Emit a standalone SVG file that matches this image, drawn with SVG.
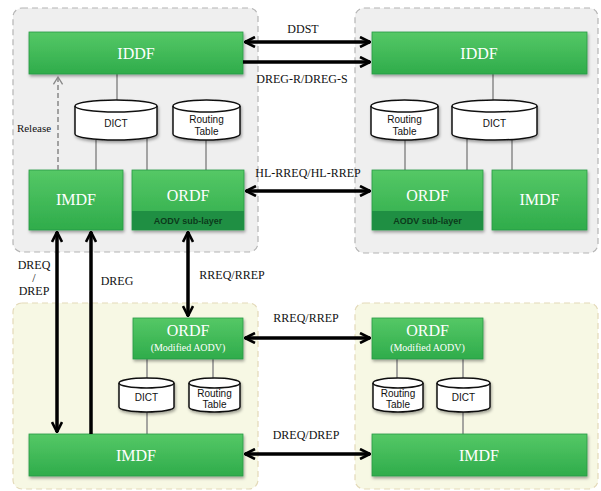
<svg xmlns="http://www.w3.org/2000/svg" width="601" height="491" viewBox="0 0 601 491">
<defs>
<style>
.cT{fill:#efefef;stroke:#b4b4b4;stroke-width:1.2;stroke-dasharray:6 4}
.cB{fill:#f7f8e4;stroke:#e3d9b8;stroke-width:1.2;stroke-dasharray:6 4}
.box{fill:url(#g);stroke:#2a9a45;stroke-width:0.8;filter:url(#sh)}
.band{fill:#1f8f43}
.bt{font-family:"Liberation Serif",serif;font-size:16px;fill:#ffffff;text-anchor:middle}
.bs{font-family:"Liberation Serif",serif;font-size:10px;fill:#ffffff;text-anchor:middle}
.sub{font-family:"Liberation Sans",sans-serif;font-size:9px;font-weight:bold;fill:#0c3a1b;text-anchor:middle}
.cyl{fill:#ffffff;stroke:#111111;stroke-width:1.5;filter:url(#sh)}
.cylt{font-family:"Liberation Sans",sans-serif;font-size:10px;fill:#111111;text-anchor:middle}
.lbl{font-family:"Liberation Serif",serif;font-size:12px;fill:#111111}
.gl{stroke:#8a8a8a;stroke-width:1.5}
.ar{stroke:#000000;stroke-width:3.5;fill:none}
.rel{stroke:#888888;stroke-width:1.5;stroke-dasharray:5 3;fill:none}
</style>
<linearGradient id="g" x1="0" y1="0" x2="0" y2="1">
<stop offset="0" stop-color="#55c866"/>
<stop offset="1" stop-color="#2fac4b"/>
</linearGradient>
<filter id="sh" x="-10%" y="-20%" width="120%" height="150%">
<feDropShadow dx="1" dy="2" stdDeviation="1.5" flood-color="#000000" flood-opacity="0.35"/>
</filter>
<marker id="ah" viewBox="0 0 12 12" refX="11" refY="6" markerWidth="12" markerHeight="12" markerUnits="userSpaceOnUse" orient="auto-start-reverse">
<path d="M1,1 L11,6 L1,11" fill="none" stroke="#000000" stroke-width="2.6" stroke-linejoin="miter"/>
</marker>
<marker id="ahg" viewBox="0 0 12 12" refX="10" refY="6" markerWidth="11" markerHeight="11" markerUnits="userSpaceOnUse" orient="auto">
<path d="M2,1 L10,6 L2,11" fill="none" stroke="#888888" stroke-width="1.5"/>
</marker>
</defs>

<rect width="601" height="491" fill="#ffffff"/>

<g id="containers">
<rect id="topLeftNode" class="cT" x="13" y="8" width="245" height="244" rx="9"/>
<rect id="topRightNode" class="cT" x="355" y="8" width="243" height="245" rx="9"/>
<rect id="bottomLeftNode" class="cB" x="13" y="303" width="245" height="186" rx="9"/>
<rect id="bottomRightNode" class="cB" x="355" y="303" width="243" height="186" rx="9"/>
</g>

<g id="internal-links">
<line class="gl" x1="117" y1="74" x2="117" y2="102"/>
<line class="gl" x1="96" y1="138" x2="96" y2="170"/>
<line class="gl" x1="147" y1="138" x2="147" y2="170"/>
<line class="gl" x1="206" y1="138" x2="206" y2="170"/>
<line class="gl" x1="493" y1="74" x2="493" y2="102"/>
<line class="gl" x1="405" y1="138" x2="405" y2="170"/>
<line class="gl" x1="467" y1="138" x2="467" y2="170"/>
<line class="gl" x1="512" y1="138" x2="512" y2="170"/>
<line class="gl" x1="147" y1="359" x2="147" y2="379"/>
<line class="gl" x1="213" y1="359" x2="213" y2="379"/>
<line class="gl" x1="147" y1="411" x2="147" y2="434"/>
<line class="gl" x1="397" y1="359" x2="397" y2="379"/>
<line class="gl" x1="463" y1="359" x2="463" y2="379"/>
<line class="gl" x1="463" y1="411" x2="463" y2="434"/>
</g>

<g id="tl-iddf"><rect class="box" x="29" y="32" width="214" height="42"/><text class="bt" x="136" y="59">IDDF</text></g>
<g id="tr-iddf"><rect class="box" x="372" y="32" width="215" height="42"/><text class="bt" x="479" y="59">IDDF</text></g>

<g id="tl-dict"><path class="cyl" d="M75,106 A41,6 0 0 1 157,106 V134 A41,6 0 0 1 75,134 Z"/><path d="M75,106 A41,6 0 0 0 157,106" fill="none" stroke="#111" stroke-width="1.5"/><text class="cylt" x="116" y="127">DICT</text></g>
<g id="tl-rt"><path class="cyl" d="M173,106 A33.5,6 0 0 1 240,106 V134 A33.5,6 0 0 1 173,134 Z"/><path d="M173,106 A33.5,6 0 0 0 240,106" fill="none" stroke="#111" stroke-width="1.5"/><text class="cylt" x="206.5" y="123">Routing</text><text class="cylt" x="206.5" y="135">Table</text></g>
<g id="tr-rt"><path class="cyl" d="M371,106 A33.5,6 0 0 1 438,106 V134 A33.5,6 0 0 1 371,134 Z"/><path d="M371,106 A33.5,6 0 0 0 438,106" fill="none" stroke="#111" stroke-width="1.5"/><text class="cylt" x="404.5" y="123">Routing</text><text class="cylt" x="404.5" y="135">Table</text></g>
<g id="tr-dict"><path class="cyl" d="M452,106 A42.5,6 0 0 1 537,106 V134 A42.5,6 0 0 1 452,134 Z"/><path d="M452,106 A42.5,6 0 0 0 537,106" fill="none" stroke="#111" stroke-width="1.5"/><text class="cylt" x="494.5" y="127">DICT</text></g>

<g id="tl-imdf"><rect class="box" x="29" y="170" width="94" height="60"/><text class="bt" x="76" y="205">IMDF</text></g>
<g id="tl-ordf"><rect class="box" x="132" y="170" width="112" height="60"/><rect class="band" x="132" y="211" width="112" height="19"/><text class="bt" x="188" y="201">ORDF</text><text class="sub" x="188" y="224">AODV sub-layer</text></g>
<g id="tr-ordf"><rect class="box" x="372" y="170" width="111" height="60"/><rect class="band" x="372" y="211" width="111" height="19"/><text class="bt" x="427.5" y="201">ORDF</text><text class="sub" x="427.5" y="224">AODV sub-layer</text></g>
<g id="tr-imdf"><rect class="box" x="492" y="170" width="95" height="60"/><text class="bt" x="539.5" y="205">IMDF</text></g>

<g id="bl-ordf"><rect class="box" x="133" y="318" width="110" height="41"/><text class="bt" x="188" y="336">ORDF</text><text class="bs" x="188" y="351">(Modified  AODV)</text></g>
<g id="br-ordf"><rect class="box" x="372" y="318" width="111" height="41"/><text class="bt" x="427.5" y="336">ORDF</text><text class="bs" x="427.5" y="351">(Modified  AODV)</text></g>

<g id="bl-dict"><path class="cyl" d="M119,383 A27.5,5 0 0 1 174,383 V407 A27.5,5 0 0 1 119,407 Z"/><path d="M119,383 A27.5,5 0 0 0 174,383" fill="none" stroke="#111" stroke-width="1.5"/><text class="cylt" x="146.5" y="401">DICT</text></g>
<g id="bl-rt"><path class="cyl" d="M189,383 A25.5,5 0 0 1 240,383 V407 A25.5,5 0 0 1 189,407 Z"/><path d="M189,383 A25.5,5 0 0 0 240,383" fill="none" stroke="#111" stroke-width="1.5"/><text class="cylt" x="214.5" y="397">Routing</text><text class="cylt" x="214.5" y="408">Table</text></g>
<g id="br-rt"><path class="cyl" d="M373,383 A25,5 0 0 1 423,383 V407 A25,5 0 0 1 373,407 Z"/><path d="M373,383 A25,5 0 0 0 423,383" fill="none" stroke="#111" stroke-width="1.5"/><text class="cylt" x="398" y="397">Routing</text><text class="cylt" x="398" y="408">Table</text></g>
<g id="br-dict"><path class="cyl" d="M437,383 A26.5,5 0 0 1 490,383 V407 A26.5,5 0 0 1 437,407 Z"/><path d="M437,383 A26.5,5 0 0 0 490,383" fill="none" stroke="#111" stroke-width="1.5"/><text class="cylt" x="463.5" y="401">DICT</text></g>

<g id="bl-imdf"><rect class="box" x="29" y="434" width="214" height="42"/><text class="bt" x="136" y="461">IMDF</text></g>
<g id="br-imdf"><rect class="box" x="372" y="434" width="215" height="42"/><text class="bt" x="479" y="461">IMDF</text></g>

<g id="connectors">
<line class="ar" x1="245" y1="42" x2="370" y2="42" marker-start="url(#ah)" marker-end="url(#ah)"/>
<line class="ar" x1="243" y1="62" x2="370" y2="62" marker-end="url(#ah)"/>
<line class="ar" x1="246" y1="191" x2="370" y2="191" marker-start="url(#ah)" marker-end="url(#ah)"/>
<line class="ar" x1="245" y1="338" x2="370" y2="338" marker-start="url(#ah)" marker-end="url(#ah)"/>
<line class="ar" x1="245" y1="454" x2="370" y2="454" marker-start="url(#ah)" marker-end="url(#ah)"/>
<line class="ar" x1="57" y1="232" x2="57" y2="432" marker-start="url(#ah)" marker-end="url(#ah)"/>
<line class="ar" x1="91" y1="434" x2="91" y2="232" marker-end="url(#ah)"/>
<line class="ar" x1="188" y1="232" x2="188" y2="316" marker-start="url(#ah)" marker-end="url(#ah)"/>
<line class="rel" x1="58" y1="170" x2="58" y2="77" marker-end="url(#ahg)"/>
</g>

<g id="labels">
<text class="lbl" x="303" y="33" text-anchor="middle">DDST</text>
<text class="lbl" x="302" y="83" text-anchor="middle">DREG-R/DREG-S</text>
<text class="lbl" x="308" y="177" text-anchor="middle">HL-RREQ/HL-RREP</text>
<text class="lbl" x="306" y="322" text-anchor="middle">RREQ/RREP</text>
<text class="lbl" x="306" y="439" text-anchor="middle">DREQ/DREP</text>
<text class="lbl" x="232" y="279" text-anchor="middle">RREQ/RREP</text>
<text class="lbl" x="34" y="269" text-anchor="middle">DREQ</text>
<text class="lbl" x="34" y="282" text-anchor="middle">/</text>
<text class="lbl" x="34" y="295" text-anchor="middle">DREP</text>
<text class="lbl" x="117" y="285" text-anchor="middle">DREG</text>
<text class="lbl" x="34" y="132" text-anchor="middle" style="font-size:11px">Release</text>
</g>
</svg>
